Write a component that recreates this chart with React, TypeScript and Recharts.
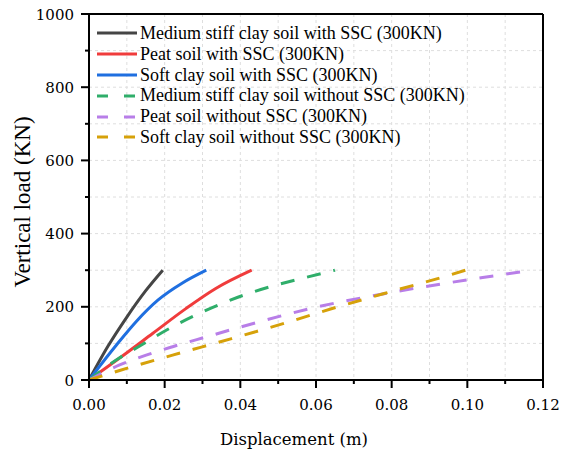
import React from 'react';
import {
  LineChart,
  Line,
  XAxis,
  YAxis,
  CartesianGrid,
  ReferenceLine,
  Legend
} from 'recharts';

// tick values
const xTicks = [0, 0.01, 0.02, 0.03, 0.04, 0.05, 0.06, 0.07, 0.08, 0.09, 0.1, 0.11, 0.12];
const yTicks = [0, 100, 200, 300, 400, 500, 600, 700, 800, 900, 1000];

// displacement (m) / vertical load (KN)
const medStiffWithDisp = [0, 0.005, 0.01, 0.015, 0.0195];
const medStiffWithLoad = [0, 92, 172, 244, 300];

const peatWithDisp = [0, 0.0081, 0.0168, 0.0256, 0.0335, 0.043];
const peatWithLoad = [0, 60, 127, 195, 250, 300];

const softWithDisp = [0, 0.0072, 0.0125, 0.0182, 0.0247, 0.031];
const softWithLoad = [0, 95, 160, 218, 265, 300];

const medStiffWithoutDisp = [0, 0.008, 0.0133, 0.0204, 0.0335, 0.0412, 0.0483, 0.0557, 0.065];
const medStiffWithoutLoad = [0, 60, 92, 136, 202, 233, 256, 276, 300];

const peatWithoutDisp = [0, 0.0081, 0.0151, 0.0221, 0.0311, 0.0443, 0.0584, 0.0803, 0.0953, 0.11, 0.1169];
const peatWithoutLoad = [0, 41, 68, 91, 118, 157, 195, 240, 266, 289, 300];

const softWithoutDisp = [0, 0.0081, 0.0221, 0.0377, 0.0513, 0.0645, 0.0803, 0.0948, 0.0995];
const softWithoutLoad = [0, 26, 68, 113, 154, 196, 243, 285, 300];

const toPoints = (xs: number[], ys: number[]) => xs.map((x, i) => ({ x, y: ys[i] }));

const series = [
  { name: 'Medium stiff clay soil with SSC (300KN)', color: '#454545', dashed: false, data: toPoints(medStiffWithDisp, medStiffWithLoad) },
  { name: 'Peat soil with SSC (300KN)', color: '#f03c3c', dashed: false, data: toPoints(peatWithDisp, peatWithLoad) },
  { name: 'Soft clay soil with SSC (300KN)', color: '#1f6fe0', dashed: false, data: toPoints(softWithDisp, softWithLoad) },
  { name: 'Medium stiff clay soil without SSC (300KN)', color: '#2fae6a', dashed: true, data: toPoints(medStiffWithoutDisp, medStiffWithoutLoad) },
  { name: 'Peat soil without SSC (300KN)', color: '#b87ee8', dashed: true, data: toPoints(peatWithoutDisp, peatWithoutLoad) },
  { name: 'Soft clay soil without SSC (300KN)', color: '#d6a10a', dashed: true, data: toPoints(softWithoutDisp, softWithoutLoad) }
];

const SERIF = 'Liberation Serif';
// horizontal svg text only picks up a serif face with DejaVu here
const SVG_SERIF = 'DejaVu Serif';

const XTick = ({ x, y, payload }: any) => {
  const major = Math.round(payload.value * 100) % 2 === 0;
  return (
    <g>
      <line x1={x} x2={x} y1={y} y2={y + (major ? 8 : 4)} stroke="#000" strokeWidth={2} />
      {major && (
        <text x={x} y={y + 30} textAnchor="middle" fontFamily={SVG_SERIF} fontSize={15} fill="#000">
          {payload.value.toFixed(2)}
        </text>
      )}
    </g>
  );
};

const YTick = ({ x, y, payload }: any) => {
  const major = payload.value % 200 === 0;
  return (
    <g>
      <line x1={x - (major ? 8 : 4)} x2={x} y1={y} y2={y} stroke="#000" strokeWidth={2} />
      {major && (
        <text x={x - 15} y={y + 5.5} textAnchor="end" fontFamily={SVG_SERIF} fontSize={15} fill="#000">
          {payload.value}
        </text>
      )}
    </g>
  );
};

const LegendBox = () => (
  <div style={{ fontFamily: SERIF, fontSize: 18, color: '#000', lineHeight: '20.8px' }}>
    {series.map(s => (
      <div key={s.name} style={{ display: 'flex', alignItems: 'center', height: 20.8, whiteSpace: 'nowrap' }}>
        <svg width={42} height={10} style={{ marginRight: 2 }}>
          <line
            x1={1}
            x2={41}
            y1={5}
            y2={5}
            stroke={s.color}
            strokeWidth={3}
            strokeDasharray={s.dashed ? '11 16' : undefined}
          />
        </svg>
        <span>{s.name}</span>
      </div>
    ))}
  </div>
);

export default function App() {
  return (
    <div style={{ width: 564, height: 454 }}>
      <style>{'body{margin:0}'}</style>
      <LineChart width={564} height={454} margin={{ top: 14, right: 21, left: 0, bottom: 0 }}>
        <CartesianGrid stroke="#dedede" strokeDasharray="3 3" />
        <XAxis
          type="number"
          dataKey="x"
          domain={[0, 0.12]}
          ticks={xTicks}
          interval={0}
          height={74}
          tickSize={0}
          tickMargin={0}
          tickLine={false}
          tick={<XTick />}
          axisLine={{ stroke: '#000', strokeWidth: 2 }}
          allowDuplicatedCategory={false}
          label={{
            content: () => (
              <text x={294} y={445} textAnchor="middle" fontFamily={SVG_SERIF} fontSize={16.5} fill="#000">
                Displacement (m)
              </text>
            )
          }}
        />
        <YAxis
          type="number"
          domain={[0, 1000]}
          ticks={yTicks}
          interval={0}
          width={89}
          tickSize={0}
          tickMargin={0}
          tickLine={false}
          tick={<YTick />}
          axisLine={{ stroke: '#000', strokeWidth: 2 }}
          label={{
            content: () => (
              <text
                x={30}
                y={202}
                transform="rotate(-90 30 202)"
                textAnchor="middle"
                fontFamily={SERIF}
                fontSize={23}
                fill="#000"
              >
                Vertical load (KN)
              </text>
            )
          }}
        />
        <ReferenceLine y={1000} stroke="#000" strokeWidth={2} />
        <ReferenceLine x={0.12} stroke="#000" strokeWidth={2} />
        <Legend
          layout="horizontal"
          verticalAlign="middle"
          align="center"
          content={<LegendBox />}
          wrapperStyle={{ top: 23, left: 96, width: 'auto' }}
        />
        {series.map(s => (
          <Line
            key={s.name}
            name={s.name}
            data={s.data}
            dataKey="y"
            type="monotone"
            stroke={s.color}
            strokeWidth={3}
            strokeDasharray={s.dashed ? '14 13' : undefined}
            dot={false}
            activeDot={false}
            isAnimationActive={false}
          />
        ))}
      </LineChart>
    </div>
  );
}
